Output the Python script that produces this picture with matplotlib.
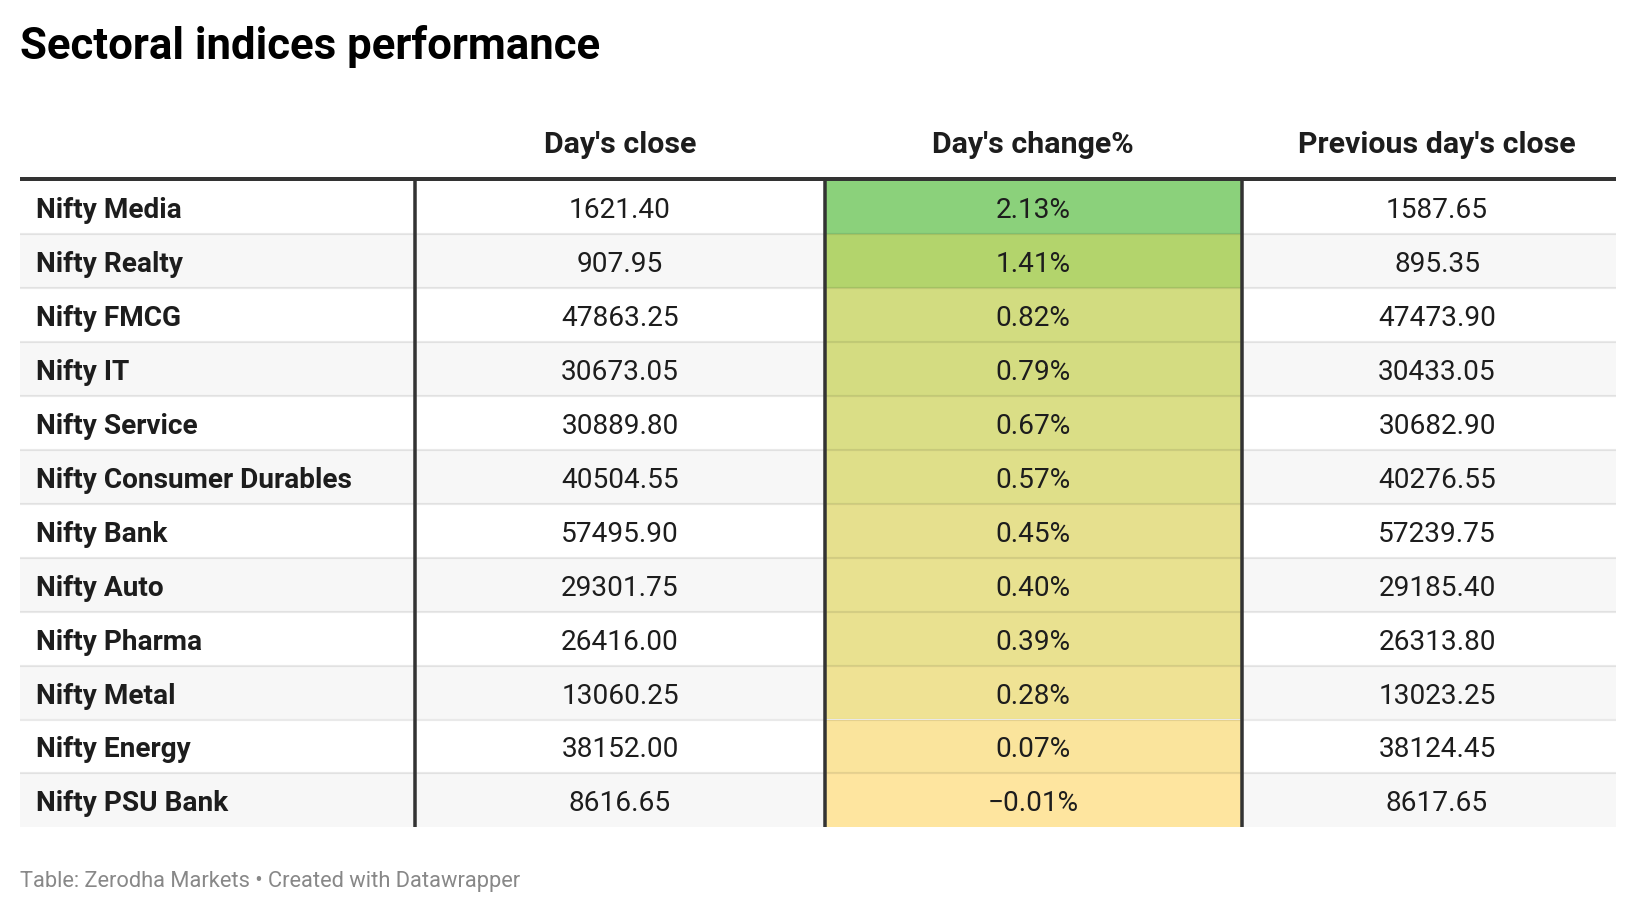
import matplotlib
matplotlib.use("Agg")
import matplotlib.pyplot as plt
from matplotlib.colors import LinearSegmentedColormap, Normalize
from matplotlib.patches import Rectangle

# ---- data ----
sectors = ["Nifty Media", "Nifty Realty", "Nifty FMCG", "Nifty IT", "Nifty Service",
           "Nifty Consumer Durables", "Nifty Bank", "Nifty Auto", "Nifty Pharma",
           "Nifty Metal", "Nifty Energy", "Nifty PSU Bank"]
days_close = ["1621.40", "907.95", "47863.25", "30673.05", "30889.80", "40504.55",
              "57495.90", "29301.75", "26416.00", "13060.25", "38152.00", "8616.65"]
days_change = [2.13, 1.41, 0.82, 0.79, 0.67, 0.57, 0.45, 0.40, 0.39, 0.28, 0.07, -0.01]
prev_close = ["1587.65", "895.35", "47473.90", "30433.05", "30682.90", "40276.55",
              "57239.75", "29185.40", "26313.80", "13023.25", "38124.45", "8617.65"]
headers = ["Day's close", "Day's change%", "Previous day's close"]
title = "Sectoral indices performance"
footer = "Table: Zerodha Markets \u2022 Created with Datawrapper"

# ---- style ----
FONT = "Roboto"
W, H = 1636, 914
fig = plt.figure(figsize=(W / 100, H / 100), dpi=100)
ax = fig.add_axes([0, 0, 1, 1])
ax.set_xlim(0, W)
ax.set_ylim(H, 0)
ax.axis("off")

def px(p):  # pixels -> points
    return p * 0.72

left, right = 20, 1616
top = 180.5
row_h = 53.9
col_sep = [415, 825, 1242]
col_centers = [620, 1033, 1437]
n = len(sectors)
bottom = top + row_h * n
text_dy = 3.5

cmap = LinearSegmentedColormap.from_list(
    "dw", [(0.0, "#fee59f"), (0.39, "#d2dc80"), (0.664, "#b3d46c"), (1.0, "#8bd17b")])
norm = Normalize(vmin=min(days_change), vmax=max(days_change))

ax.text(20, 46, title, fontsize=px(43.8), fontweight="bold", family=FONT,
        color="#000000", va="center", ha="left")

for j, h in enumerate(headers):
    ax.text(col_centers[j], 145, h, fontsize=px(30.4), fontweight="bold", family=FONT,
            color="#1d1d1d", va="center", ha="center")

for i in range(n):
    y0 = top + i * row_h
    yc = y0 + row_h / 2 + text_dy
    if i % 2 == 1:
        ax.add_patch(Rectangle((left, y0), right - left, row_h, facecolor="#f7f7f7",
                               edgecolor="none", zorder=1))
    ax.add_patch(Rectangle((col_sep[1], y0), col_sep[2] - col_sep[1], row_h,
                           facecolor=cmap(norm(days_change[i])), edgecolor="none", zorder=1.5))
    if i > 0:
        ax.plot([left, right], [y0, y0], color=(0, 0, 0, 0.085), lw=px(2.2),
                solid_capstyle="butt", zorder=2)
    ax.text(36, yc, sectors[i], fontsize=px(28), fontweight="bold", family=FONT,
            color="#1d1d1d", va="center", ha="left", zorder=3)
    ax.text(col_centers[0], yc, days_close[i], fontsize=px(28), family=FONT,
            color="#1d1d1d", va="center", ha="center", zorder=3)
    chg = f"{days_change[i]:.2f}%".replace("-", "\u2212")
    ax.text(col_centers[1], yc, chg, fontsize=px(28), family=FONT,
            color="#1d1d1d", va="center", ha="center", zorder=3)
    ax.text(col_centers[2], yc, prev_close[i], fontsize=px(28), family=FONT,
            color="#1d1d1d", va="center", ha="center", zorder=3)

for x in col_sep:
    ax.plot([x, x], [top - 2, bottom], color="#333333", lw=px(3.5),
            solid_capstyle="butt", zorder=4)
ax.plot([left, right], [178.5, 178.5], color="#333333", lw=px(4),
        solid_capstyle="butt", zorder=5)

ax.text(20, 881, footer, fontsize=px(21.9), family=FONT, color="#888888",
        va="center", ha="left")

fig.savefig("out.png", dpi=100)
